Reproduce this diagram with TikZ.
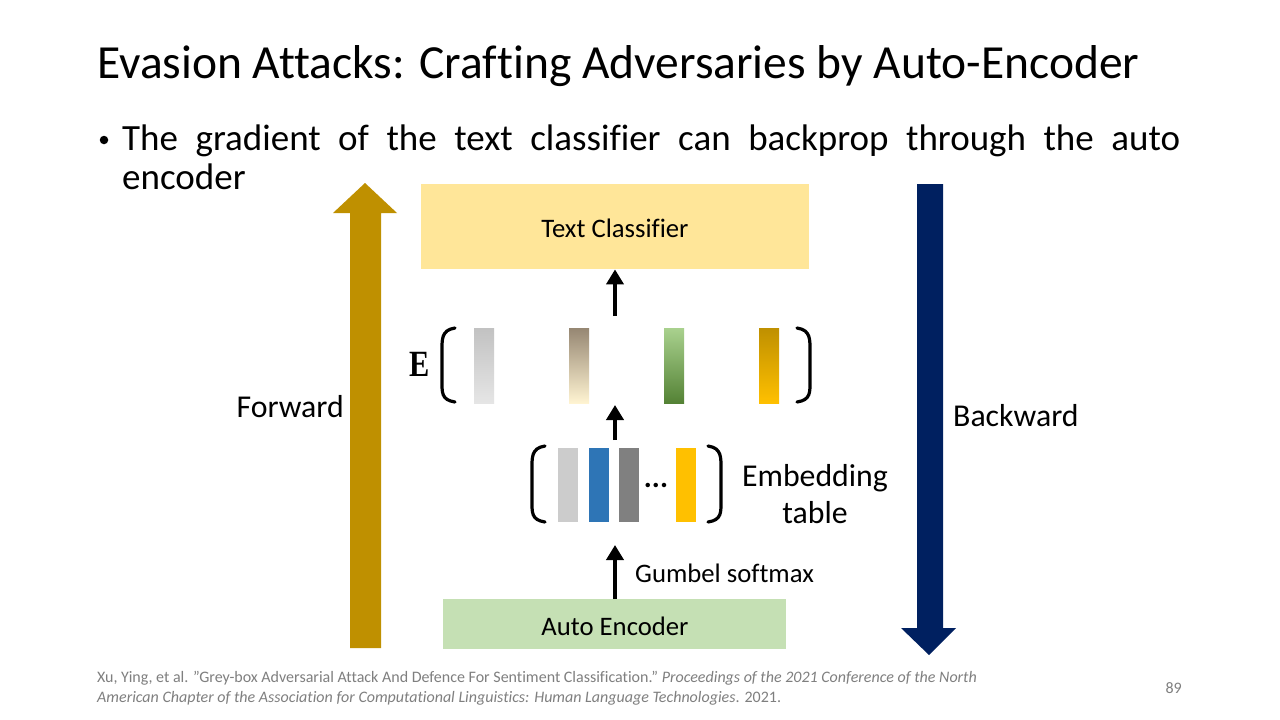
\documentclass[tikz,border=0pt]{standalone}
\usepackage{fontspec}
\setmainfont{Carlito}[Ligatures=NoCommon]
\newfontfamily\serifbold{Liberation Serif Bold}
\usetikzlibrary{arrows.meta}
\definecolor{fwdgold}{HTML}{BF9000}
\definecolor{bwdnavy}{HTML}{002060}
\definecolor{clsfill}{HTML}{FFE699}
\definecolor{aefill}{HTML}{C5E0B4}
\definecolor{footgray}{HTML}{7F7F7F}
\tikzset{
  blockbox/.style={inner sep=0pt, anchor=north west},
  smalltxt/.style={font=\fontsize{26.7}{30}\selectfont, inner sep=0pt},
  midtxt/.style={font=\fontsize{31.8}{37}\selectfont, inner sep=0pt},
  foottxt/.style={anchor=base west, inner sep=0pt, text=footgray, font=\fontsize{16}{20}\selectfont},
  flowarrow/.style={line width=4pt, -{Triangle[width=17pt,length=15pt]}},
  bracketline/.style={line width=3.2pt, line cap=round},
  bar/.style={inner sep=0pt, minimum width=20pt, anchor=north west}
}
\begin{document}
\begin{tikzpicture}[x=1pt,y=-1pt]
\useasboundingbox (0,0) rectangle (1280,720);
\fill[white] (0,0) rectangle (1280,720);

% title and bullet
\node[anchor=base west, inner sep=0pt, font=\fontsize{47.5}{56}\selectfont] (title) at (97,78)
  {Evasion Attacks: Crafting Adversaries by Auto-Encoder};
\node[circle, fill=black, inner sep=0pt, minimum size=8.5pt] (bullet) at (104,140) {};
\node[anchor=base west, inner sep=0pt, font=\fontsize{37}{38}\selectfont] (bline1) at (122,150)
  {\makebox[1058pt][s]{The gradient of the text classifier can backprop through the auto}};
\node[anchor=base west, inner sep=0pt, font=\fontsize{37}{38}\selectfont] (bline2) at (122,189) {encoder};

% forward block arrow
\fill[fwdgold] (350,648) -- (350,213) -- (333,213) -- (365,183) -- (397,213) -- (381,213) -- (381,648) -- cycle;
\node[midtxt, anchor=east] (fwd) at (344,407) {Forward};

% backward block arrow
\fill[bwdnavy] (917,184) -- (943,184) -- (943,628) -- (956,628) -- (929,655) -- (901,628) -- (917,628) -- cycle;
\node[midtxt, anchor=west] (bwd) at (953,416) {Backward};

% text classifier
\node[blockbox, fill=clsfill, minimum width=388pt, minimum height=85pt] (cls) at (421,184) {};
\node[smalltxt] (clstxt) at (615,228) {Text Classifier};

% auto encoder
\node[blockbox, fill=aefill, minimum width=343pt, minimum height=50pt] (ae) at (443,599) {};
\node[smalltxt] (aetxt) at (615,626) {Auto Encoder};

% E row
\node[inner sep=0pt, xscale=0.82, font=\serifbold\fontsize{37}{40}\selectfont] (E) at (420,364) {E};
\draw[bracketline] (455,328) .. controls (441,330) and (442,340) .. (442,352) -- (442,380) .. controls (442,392) and (441,400) .. (455,402);
\draw[bracketline] (797,328) .. controls (811,330) and (810,340) .. (810,352) -- (810,380) .. controls (810,392) and (811,400) .. (797,402);
\node[bar, minimum height=75pt, top color=black!24, bottom color=black!10] (e1) at (474,328) {};
\node[bar, minimum height=75pt, top color={rgb,255:red,150;green,135;blue,115}, bottom color={rgb,255:red,255;green,244;blue,210}] (e2) at (569,328) {};
\node[bar, minimum height=75pt, top color={rgb,255:red,169;green,209;blue,142}, bottom color={rgb,255:red,84;green,130;blue,53}] (e3) at (664,328) {};
\node[bar, minimum height=75pt, top color={rgb,255:red,191;green,144;blue,0}, bottom color={rgb,255:red,255;green,192;blue,0}] (e4) at (759,328) {};
\coordinate (etop) at (615,316);
\coordinate (ebot) at (615,405);

% embedding table
\draw[bracketline] (545,446) .. controls (531,448) and (532,458) .. (532,470) -- (532,500) .. controls (532,512) and (531,520) .. (545,522);
\draw[bracketline] (708,446) .. controls (722,448) and (721,458) .. (721,470) -- (721,500) .. controls (721,512) and (722,520) .. (708,522);
\node[bar, minimum height=74pt, fill=black!20] (t1) at (558,448) {};
\node[bar, minimum height=74pt, fill={rgb,255:red,46;green,117;blue,182}] (t2) at (589,448) {};
\node[bar, minimum height=74pt, fill=black!50] (t3) at (619,448) {};
\node[inner sep=0pt, font=\fontsize{30}{30}\selectfont\bfseries] (dots) at (656,485) {...};
\node[bar, minimum height=74pt, fill={rgb,255:red,255;green,192;blue,0}] (t4) at (676,448) {};
\node[midtxt, anchor=base] (embtxt1) at (815,486) {Embedding};
\node[midtxt, anchor=base] (embtxt2) at (815,523) {table};
\coordinate (ttop) at (615,440);
\coordinate (tbot) at (615,545);

% connectors
\draw[flowarrow] (ae.north -| tbot) -- (tbot);
\draw[flowarrow] (ttop) -- (ebot);
\draw[flowarrow] (etop) -- (cls.south -| etop);
\node[smalltxt, anchor=west] (gumbel) at (635,573) {Gumbel softmax};

% footer
\node[foottxt] (ref1) at (97,682)
  {Xu, Ying, et al. \symbol{34}Grey-box Adversarial Attack And Defence For Sentiment Classification.\symbol{34} \textit{Proceedings of the 2021 Conference of the North}};
\node[foottxt] (ref2) at (97,702)
  {\textit{American Chapter of the Association for Computational Linguistics: Human Language Technologies}. 2021.};
\node[foottxt, anchor=base east] (page) at (1182,693) {89};
\end{tikzpicture}
\end{document}
